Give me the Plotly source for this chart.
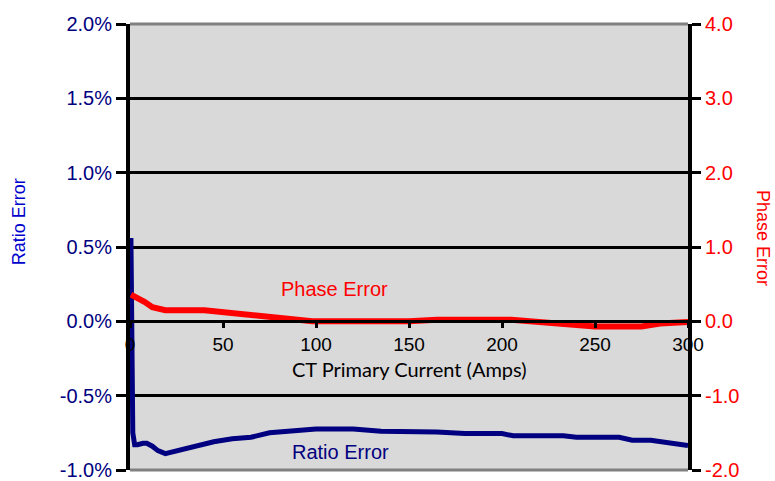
import plotly.graph_objects as go

# Data
ratio_x = [0.5, 0.8, 1.5, 2.5, 4, 7, 9, 12, 15, 19, 25, 35, 45, 55, 65, 75, 90, 100, 120, 135,
           165, 180, 200, 206, 233, 240, 263, 270, 280, 300]
ratio_y = [0.56, -0.40, -0.75, -0.83, -0.83, -0.82, -0.82, -0.84, -0.87, -0.89, -0.87, -0.84,
           -0.81, -0.79, -0.78, -0.75, -0.73, -0.725, -0.725, -0.74, -0.745, -0.755, -0.755,
           -0.77, -0.77, -0.78, -0.78, -0.80, -0.80, -0.835]

phase_x = [0.5, 5, 8, 12, 19, 40, 58, 73, 83, 98, 150, 165, 205, 215, 235, 250, 275, 285, 300]
phase_y = [0.36, 0.31, 0.26, 0.19, 0.15, 0.15, 0.10, 0.06, 0.04, 0.0, 0.0, 0.02, 0.02, 0.0,
           -0.03, -0.07, -0.07, -0.03, -0.01]

x_ticks = [0, 50, 100, 150, 200, 250, 300]
left_ticks = [-1.0, -0.5, 0.0, 0.5, 1.0, 1.5, 2.0]
left_labels = ["-1.0%", "-0.5%", "0.0%", "0.5%", "1.0%", "1.5%", "2.0%"]
right_ticks = [-2.0, -1.0, 0.0, 1.0, 2.0, 3.0, 4.0]
right_labels = ["-2.0", "-1.0", "0.0", "1.0", "2.0", "3.0", "4.0"]

NAVY = "#000080"
RED = "#ff0000"
FONT = "Liberation Sans, Arial, sans-serif"

fig = go.Figure()
fig.add_trace(go.Scatter(x=ratio_x, y=ratio_y, mode="lines", yaxis="y",
                         line=dict(color=NAVY, width=5), showlegend=False))
fig.add_trace(go.Scatter(x=phase_x, y=phase_y, mode="lines", yaxis="y2",
                         line=dict(color=RED, width=6), showlegend=False))

fig.update_layout(
    width=775, height=481,
    margin=dict(l=130, r=87, t=24, b=11),
    paper_bgcolor="white",
    plot_bgcolor="#d9d9d9",
    font=dict(family=FONT),
    xaxis=dict(
        range=[0, 300], tickvals=x_ticks, ticktext=[str(v) for v in x_ticks],
        showgrid=False, zeroline=False, automargin=False,
        anchor="free", position=1/3,
        showline=True, linecolor="black", linewidth=3,
        ticks="outside", ticklen=5, tickwidth=3, tickcolor="black",
        tickfont=dict(size=19, color="black", family=FONT),
    ),
    yaxis=dict(
        range=[-1.0, 2.0], tickvals=left_ticks, ticktext=left_labels,
        showgrid=True, gridcolor="black", gridwidth=3, zeroline=False, automargin=False,
        showline=True, linecolor="black", linewidth=4,
        ticks="outside", ticklen=10, tickwidth=3, tickcolor="black",
        tickfont=dict(size=20, color=NAVY, family=FONT),
    ),
    yaxis2=dict(
        range=[-2.0, 4.0], tickvals=right_ticks, ticktext=right_labels,
        overlaying="y", side="right", showgrid=False, zeroline=False, automargin=False,
        showline=True, linecolor="black", linewidth=4,
        ticks="outside", ticklen=9, tickwidth=3, tickcolor="black",
        tickfont=dict(size=20, color=RED, family=FONT),
    ),
    shapes=[
        dict(type="line", xref="x domain", yref="y domain", x0=0, x1=1, y0=1, y1=1,
             line=dict(color="#808080", width=3), layer="below"),
        dict(type="line", xref="x domain", yref="y domain", x0=0, x1=1, y0=0, y1=0,
             line=dict(color="#808080", width=3), layer="below"),
    ],
    annotations=[
        dict(text="Ratio Error", xref="paper", yref="paper", x=-0.22, y=0.556,
             showarrow=False, textangle=-90, font=dict(size=18, color="#0000cc", family=FONT)),
        dict(text="Phase Error", xref="paper", yref="paper", x=1.156, y=0.52,
             showarrow=False, textangle=90, font=dict(size=18, color=RED, family=FONT)),
        dict(text="CT Primary Current (Amps)", xref="paper", yref="paper", x=0.5, y=0.227,
             yanchor="middle",
             showarrow=False, font=dict(size=20, color="black", family="Lato, sans-serif")),
        dict(text="Phase Error", xref="x", yref="y2", x=110, y=0.43,
             showarrow=False, font=dict(size=20, color=RED, family=FONT)),
        dict(text="Ratio Error", xref="x", yref="y", x=113, y=-0.88,
             showarrow=False, font=dict(size=20, color=NAVY, family=FONT)),
    ],
)

fig.write_html("out.html", config={"displayModeBar": False},
               post_script="document.body.style.margin='0';document.body.style.overflow='hidden';")
